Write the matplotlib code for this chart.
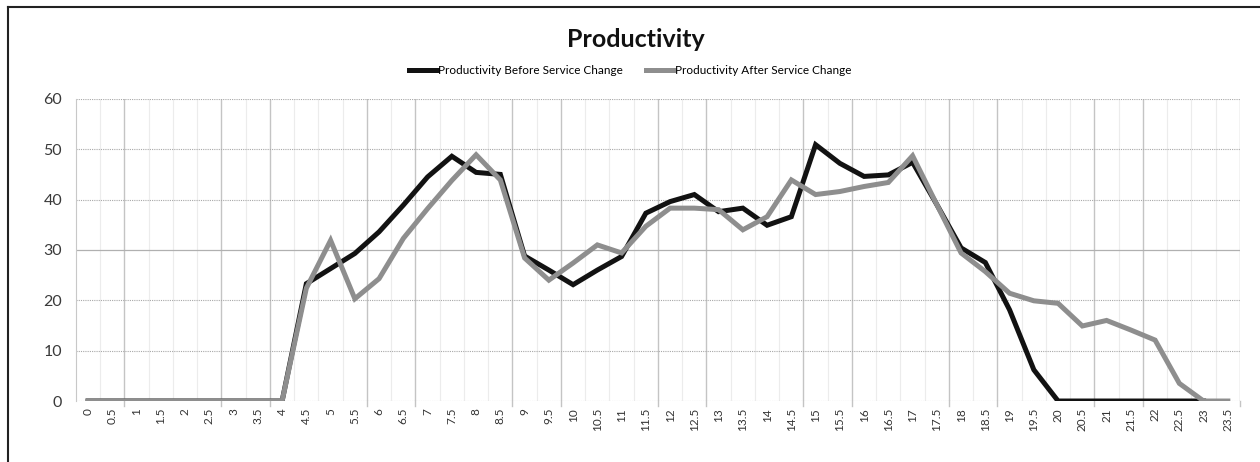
import numpy as np
import matplotlib.pyplot as plt
from matplotlib.lines import Line2D

# half-hour time slots 0 .. 23.5
slots = [f"{h / 2:g}" for h in range(48)]

before = [0, 0, 0, 0, 0, 0, 0, 0, 0,
          23.3, 26.3, 29.3, 33.6, 38.9, 44.5, 48.6, 45.4, 45.0,
          28.8, 26.0, 23.1, 26.0, 28.7, 37.3, 39.6, 41.0, 37.6, 38.3,
          34.9, 36.6, 50.9, 47.2, 44.6, 44.9, 47.4, 39.0, 30.4, 27.5,
          18.1, 6.2, 0, 0, 0, 0, 0, 0, 0, np.nan]

after = [0, 0, 0, 0, 0, 0, 0, 0, 0,
         22.4, 31.9, 20.3, 24.3, 32.3, 38.2, 43.8, 48.9, 43.9,
         28.4, 24.0, 27.4, 31.0, 29.4, 34.7, 38.3, 38.3, 38.0, 34.0,
         36.6, 43.9, 41.0, 41.6, 42.6, 43.4, 48.7, 39.0, 29.4, 25.7,
         21.4, 19.9, 19.4, 14.9, 16.0, 14.1, 12.1, 3.5, 0, 0]

yticks = [0, 10, 20, 30, 40, 50, 60]

plt.rcParams['font.family'] = ['Lato', 'DejaVu Sans']

fig = plt.figure(figsize=(12.6, 4.62), dpi=100)
ax = fig.add_axes([0.0603, 0.132, 0.9238, 0.654])

x = np.arange(len(slots))
ax.plot(x, before, color='#121212', lw=3.6, solid_joinstyle='miter', zorder=3)
ax.plot(x, after, color='#8e8e8e', lw=3.6, solid_joinstyle='miter', zorder=4)

ax.set_xlim(-0.5, len(slots) - 0.5)
ax.set_ylim(0, 60)
ax.set_xticks(x)
ax.set_xticklabels(slots, rotation=90, fontsize=8.5, color='#333333')
ax.set_yticks(yticks)
ax.set_yticklabels([str(v) for v in yticks], fontsize=11.5, color='#3a3a3a')

# category gridlines sit between slots; some print darker than others
for k in range(1, len(slots) + 1):
    strong = k % 6 in (0, 2)
    ax.axvline(k - 0.5, color='#c4c4c4' if strong else '#ececec',
               lw=1.0 if strong else 0.8, zorder=1)
    if strong:
        ax.plot([k - 0.5, k - 0.5], [0, -0.015], transform=ax.get_xaxis_transform(),
                color='#c4c4c4', lw=1.0, clip_on=False)
for v in yticks:
    if v == 30:
        ax.axhline(v, color='#b0b0b0', lw=0.9, zorder=1)
    else:
        ax.axhline(v, color='#a8a8a8', lw=0.8, ls=(0, (1, 1)), zorder=1)

ax.tick_params(axis='x', length=0, pad=5)
ax.tick_params(axis='y', length=0, pad=10)
for side in ['top', 'right', 'bottom']:
    ax.spines[side].set_visible(False)
ax.spines['left'].set_color('#c8c8c8')

fig.text(0.505, 0.915, 'Productivity', ha='center', va='center',
         fontsize=18, fontweight='bold', color='#111111')

handles = [Line2D([], [], color='#121212', lw=3.6),
           Line2D([], [], color='#8e8e8e', lw=3.6)]
fig.legend(handles, ['Productivity Before Service Change', 'Productivity After Service Change'],
           loc='center', bbox_to_anchor=(0.5, 0.848), ncol=2, frameon=False,
           fontsize=8.5, handlelength=2.4, handletextpad=0.05, columnspacing=2.0)

# outer chart frame
fig.add_artist(Line2D([0.006, 1.0], [0.985, 0.985], transform=fig.transFigure, color='#222222', lw=1.5))
fig.add_artist(Line2D([0.006, 0.006], [0.0, 0.985], transform=fig.transFigure, color='#222222', lw=1.5))

fig.savefig('out.png', dpi=100)
